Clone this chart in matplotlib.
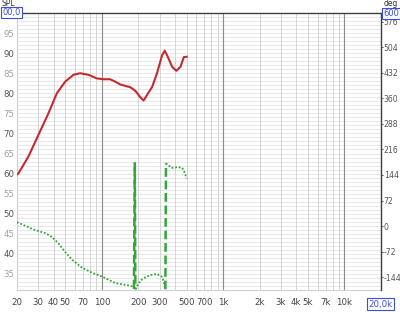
import numpy as np
import matplotlib
matplotlib.use("Agg")
import matplotlib.pyplot as plt
from matplotlib.ticker import FixedLocator, NullFormatter

# SPL trace (Hz, dB)
spl_freq = [20, 20.5, 24.8, 30.0, 36.3, 42.6, 49.9, 58.4, 66.3, 77.7, 91.1, 103, 117,
            129, 142, 172, 189, 208, 221, 236, 260, 285, 314, 330, 345, 380, 412,
            445, 474, 500]
spl_db = [59.8, 60.0, 64.2, 69.6, 75.0, 80.0, 82.9, 84.6, 85.0, 84.6, 83.7, 83.5, 83.5,
          82.9, 82.2, 81.5, 80.6, 79.0, 78.2, 79.6, 81.6, 85.0, 89.5, 90.6, 89.5, 86.6,
          85.6, 86.6, 89.0, 89.1]

# phase trace (Hz, deg, wrapped to +-180)
ph_freq = [20, 28.1, 34.0, 38.9, 43.7, 49.9, 57.0, 69.1, 83.9, 101.9, 128, 142, 165,
           178, 184, 187, 189, 192, 200, 210, 221, 250, 285, 314, 325, 330, 334,
           338, 348, 380, 426, 460, 480, 500]
ph_deg = [11, -11, -19.5, -31, -48, -73, -95, -118, -132, -143, -160, -163, -167,
          -170, -176, 179, -178, -174, -162, -153, -147, -138, -135, -143, -158, -168, -178,
          177, 172, 164, 166, 164, 152, 134]

xtick_vals = [20, 30, 40, 50, 70, 100, 200, 300, 500, 700, 1000, 2000, 3000, 4000,
              5000, 7000, 10000]
xtick_text = ["20", "30", "40", "50", "70", "100", "200", "300", "500", "700", "1k",
              "2k", "3k", "4k", "5k", "7k", "10k"]
spl_ticks = [35, 40, 45, 50, 55, 60, 65, 70, 75, 80, 85, 90, 95]
deg_ticks = [-144, -72, 0, 72, 144, 216, 288, 360, 432, 504, 576]

red = "#c42a2e"
green = "#34a53a"
plt.rcParams["font.family"] = "DejaVu Sans"

fig = plt.figure(figsize=(4.0, 3.12), dpi=100)
ax = fig.add_axes([17 / 400, 1 - 290 / 312, 364 / 400, 277 / 312])
ax.set_xscale("log")
ax.set_xlim(20, 20000)
ax.set_ylim(31, 100)

# grid
for v in range(32, 100):
    ax.axhline(v, color="#e4e4e4", lw=0.6, zorder=0)
minor_f = [f * d for d in (10, 100, 1000) for f in range(2, 10)] + [20000]
for f in minor_f:
    if f > 20:
        ax.axvline(f, color="#d4d4d4", lw=0.7, zorder=0)
for f in (100, 1000, 10000):
    ax.axvline(f, color="#8c8c8c", lw=0.8, zorder=0)

ax.plot(spl_freq, spl_db, color=red, lw=1.5, zorder=3)

ax.xaxis.set_major_locator(FixedLocator(xtick_vals))
ax.xaxis.set_minor_formatter(NullFormatter())
ax.set_xticklabels(xtick_text)
ax.tick_params(axis="x", which="both", length=0, labelsize=6.2, colors="#444444", pad=6)
ax.set_yticks(spl_ticks)
ax.set_yticklabels([str(t) for t in spl_ticks])
ax.tick_params(axis="y", length=0, labelsize=6.2, pad=2)
for lab, t in zip(ax.get_yticklabels(), spl_ticks):
    lab.set_color("#555555" if t % 10 == 0 else "#a0a0a0")

for side in ("left", "bottom"):
    ax.spines[side].set_color("#d0d0d0")
ax.spines["top"].set_color("#404040")
ax.spines["top"].set_linewidth(1.0)
ax.spines["right"].set_visible(False)

ax2 = ax.twinx()
ax2.set_ylim(-180, 600)
ax2.set_yticks(deg_ticks)
ax2.set_yticklabels([str(t) for t in deg_ticks])
ax2.tick_params(axis="y", length=1.5, width=0.7, color="#555555", labelsize=5.6,
                labelcolor="#555555", pad=0.5)
for side in ("left", "bottom", "top"):
    ax2.spines[side].set_visible(False)
ax2.spines["right"].set_color("#404040")
ax2.spines["right"].set_linewidth(1.0)

# phase: dotted trace, dashed where it wraps
fr = np.array(ph_freq)
ph = np.array(ph_deg)
jumps = np.where(np.abs(np.diff(ph)) > 180)[0]
start = 0
for j in jumps:
    ax2.plot(fr[start:j + 1], ph[start:j + 1], color=green, lw=1.3, ls=(0, (1, 1)))
    ax2.plot(fr[j:j + 2], ph[j:j + 2], color=green, lw=1.8, ls=(0, (3.5, 1.5)))
    start = j + 1
ax2.plot(fr[start:], ph[start:], color=green, lw=1.3, ls=(0, (1, 1)))

# axis captions and range boxes
box = dict(boxstyle="square,pad=0.15", fc="white", ec="#3b4fd8", lw=0.8)
fig.text(8 / 400, 1 - 3 / 312, "SPL", fontsize=5.5, color="#333333", ha="center", va="center")
fig.text(2.5 / 400, 1 - 12.5 / 312, "00,0", fontsize=6.0, color="#3b4fd8", ha="left",
         va="center", bbox=box)
fig.text(391 / 400, 1 - 3 / 312, "deg", fontsize=5.5, color="#333333", ha="center", va="center")
fig.text(391 / 400, 1 - 13.5 / 312, "600", fontsize=6.0, color="#3b4fd8", ha="center",
         va="center", bbox=box)
fig.text(380.5 / 400, 1 - 304 / 312, "20,0k", fontsize=6.2, color="#3b4fd8", ha="center",
         va="center", bbox=box)

fig.savefig("out.png", dpi=100)
